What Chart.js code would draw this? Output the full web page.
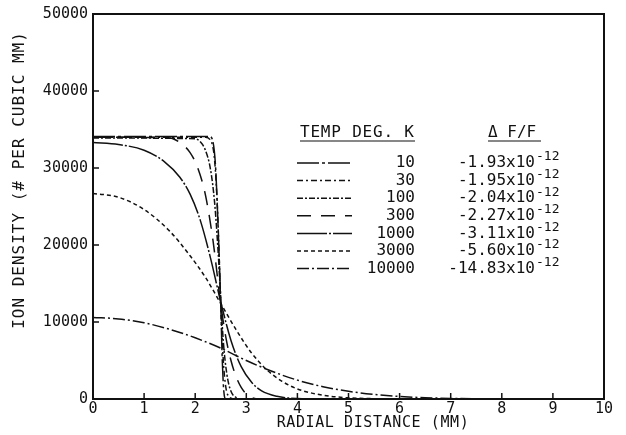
<!DOCTYPE html>
<html>
<head>
<meta charset="utf-8">
<script src="https://cdn.jsdelivr.net/npm/chart.js@4"></script>
<style>
  html, body { margin: 0; padding: 0; background: #fff; }
  #wrap { width: 626px; height: 435px; }
</style>
</head>
<body>
<div id="wrap"><canvas id="chart" width="626" height="435"></canvas></div>
<script>
// temperatures (deg K) and the fractional frequency shift for each
const temps = [10, 30, 100, 300, 1000, 3000, 10000];
const shifts = ['-1.93', '-1.95', '-2.04', '-2.27', '-3.11', '-5.60', '-14.83'];

// radial distance (mm) and ion density (# per cubic mm)
const r10 = [0, 2.28, 2.34, 2.40, 2.45, 2.50, 2.53, 2.56, 2.60, 10];
const n10 = [34100, 34100, 33600, 30000, 22000, 12300, 5000, 1000, 0, 0];
const r30 = [0, 2.20, 2.30, 2.38, 2.44, 2.50, 2.55, 2.60, 2.68, 2.75, 10];
const n30 = [34000, 34000, 33600, 31000, 24000, 12300, 5000, 1500, 200, 0, 0];
const r100 = [0, 2.00, 2.10, 2.20, 2.30, 2.38, 2.45, 2.50, 2.55, 2.62, 2.70, 2.80, 2.90, 10];
const n100 = [33900, 33800, 33400, 32300, 29800, 25500, 19000, 13000, 7500, 3200, 1000, 200, 0, 0];
const r300 = [0, 1.50, 1.70, 1.90, 2.05, 2.20, 2.35, 2.50, 2.60, 2.70, 2.80, 2.90, 3.00, 3.10, 3.25, 10];
const n300 = [34000, 33900, 33300, 32000, 30000, 26500, 20500, 12300, 8000, 5000, 2900, 1500, 650, 200, 0, 0];
const r1000 = [0, 0.5, 1.0, 1.4, 1.7, 1.9, 2.1, 2.3, 2.5, 2.7, 2.9, 3.1, 3.3, 3.6, 4.0, 4.5, 10];
const n1000 = [33300, 33050, 32300, 30800, 28800, 26600, 23200, 18300, 12600, 7600, 4200, 2200, 1050, 350, 60, 0, 0];
const r3000 = [0, 0.5, 1.0, 1.5, 1.9, 2.2, 2.5, 2.8, 3.1, 3.4, 3.7, 4.0, 4.5, 5.0, 5.5, 6.0, 10];
const n3000 = [26700, 26200, 24600, 21800, 18600, 15800, 12400, 9000, 6000, 3800, 2300, 1300, 500, 150, 40, 0, 0];
const r10000 = [0, 0.5, 1.0, 1.5, 2.0, 2.5, 3.0, 3.5, 4.0, 4.5, 5.0, 5.5, 6.0, 6.5, 7.0, 7.5, 8.0, 10];
const n10000 = [10600, 10400, 9900, 9050, 7950, 6600, 5000, 3600, 2450, 1600, 1000, 600, 330, 170, 80, 30, 0, 0];

const radii = [r10, r30, r100, r300, r1000, r3000, r10000];
const densities = [n10, n30, n100, n300, n1000, n3000, n10000];

// line styles, one per temperature
const dashes = [[22, 3, 3, 3], [6, 3, 2, 3], [6, 2, 2, 2], [14, 10], [30, 2, 2, 2], [4, 3], [12, 3, 2, 3]];

const ink = '#111';
const mono = "'DejaVu Sans Mono', monospace";

// frame, inward ticks, axis titles and the legend table
const plotDecor = {
    id: 'plotDecor',
    afterDatasetsDraw(chart) {
        const { ctx, chartArea: a, scales } = chart;
        ctx.save();
        ctx.strokeStyle = ink;
        ctx.lineWidth = 2;
        ctx.setLineDash([]);
        ctx.strokeRect(a.left, a.top, a.right - a.left, a.bottom - a.top);

        ctx.lineWidth = 1.5;
        for (let v = 1; v < 10; v++) {
            const px = scales.x.getPixelForValue(v);
            ctx.beginPath(); ctx.moveTo(px, a.bottom); ctx.lineTo(px, a.bottom - 6); ctx.stroke();
        }
        for (let v = 10000; v < 50000; v += 10000) {
            const py = scales.y.getPixelForValue(v);
            ctx.beginPath(); ctx.moveTo(a.left, py); ctx.lineTo(a.left + 6, py); ctx.stroke();
        }

        ctx.fillStyle = ink;
        ctx.textAlign = 'center';
        ctx.textBaseline = 'middle';
        ctx.font = '15px ' + mono;
        ctx.letterSpacing = '0.6px';
        ctx.fillText('RADIAL DISTANCE (MM)', 373, 423);
        ctx.save();
        ctx.translate(20, 180);
        ctx.rotate(-Math.PI / 2);
        ctx.font = '16px ' + mono;
        ctx.letterSpacing = '1px';
        ctx.fillText('ION DENSITY (# PER CUBIC MM)', 0, 0);
        ctx.restore();

        // legend table
        ctx.font = '16px ' + mono;
        ctx.letterSpacing = '0.8px';
        ctx.textAlign = 'left';
        ctx.fillText('TEMP DEG. K', 300, 133);
        ctx.letterSpacing = '0px';
        ctx.fillText('\u0394 F/F', 488, 133);
        ctx.lineWidth = 1.2;
        ctx.beginPath(); ctx.moveTo(300, 141); ctx.lineTo(415, 141); ctx.stroke();
        ctx.beginPath(); ctx.moveTo(488, 141); ctx.lineTo(541, 141); ctx.stroke();

        temps.forEach((t, i) => {
            const y = 163 + i * 17.6;
            ctx.lineWidth = 1.5;
            ctx.setLineDash(dashes[i]);
            ctx.beginPath(); ctx.moveTo(297, y); ctx.lineTo(352, y); ctx.stroke();
            ctx.setLineDash([]);
            ctx.font = '16px ' + mono;
            ctx.textAlign = 'right';
            ctx.fillText(String(t), 415, y);
            ctx.fillText(shifts[i] + 'x10', 535, y);
            ctx.textAlign = 'left';
            ctx.font = '13px ' + mono;
            ctx.fillText('-12', 536, y - 6);
        });
        ctx.restore();
    }
};

const canvas = document.getElementById('chart');
new Chart(canvas, {
    type: 'line',
    data: {
        datasets: temps.map((t, i) => ({
            label: t + ' K',
            data: radii[i].map((r, j) => ({ x: r, y: densities[i][j] })),
            borderColor: ink,
            borderWidth: 1.5,
            borderDash: dashes[i],
            pointRadius: 0,
            cubicInterpolationMode: 'monotone',
            fill: false
        }))
    },
    options: {
        responsive: false,
        animation: false,
        layout: { padding: { top: 11, right: 22, left: 0, bottom: 0 } },
        plugins: { legend: { display: false }, tooltip: { enabled: false } },
        scales: {
            x: {
                type: 'linear', min: 0, max: 10,
                grid: { display: false, drawTicks: false, tickLength: 0 }, border: { display: false },
                ticks: { stepSize: 1, maxRotation: 0, padding: 1, color: ink, font: { family: mono, size: 15 },
                         callback: v => String(v) },
                afterFit: s => { s.height = 36; }
            },
            y: {
                min: 0, max: 50000,
                grid: { display: false, drawTicks: false, tickLength: 0 }, border: { display: false },
                ticks: { stepSize: 10000, padding: 5, color: ink, font: { family: mono, size: 15 },
                         callback: v => String(v) },
                afterFit: s => { s.width = 93; }
            }
        }
    },
    plugins: [plotDecor]
});
</script>
</body>
</html>
